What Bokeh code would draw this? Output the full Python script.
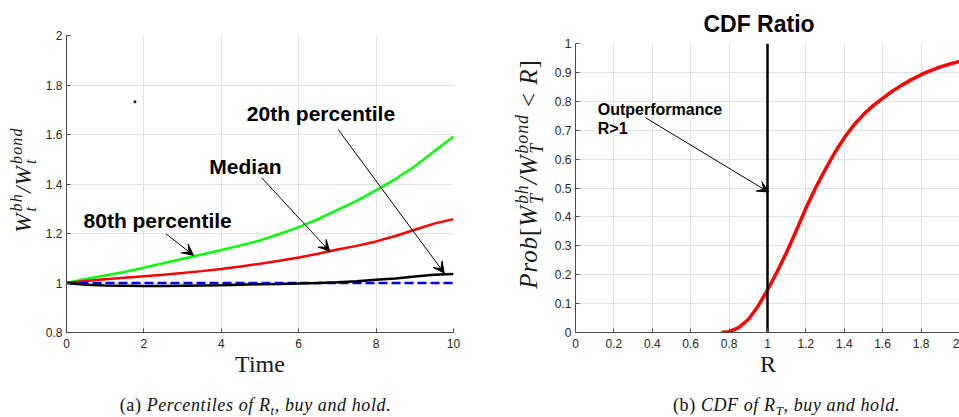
from bokeh.plotting import figure
from bokeh.models import (Range1d, CustomJSTickFormatter, Arrow, VeeHead, Div, ColumnDataSource)
from bokeh.layouts import row, column
from bokeh.embed import file_html
from bokeh.resources import INLINE
from bokeh.core.properties import value

# ---------------- panel (a): percentiles of R_t ----------------
time = [0, 0.5, 1, 1.5, 2, 2.5, 3, 3.5, 4, 4.5, 5, 5.5, 6, 6.5, 7, 7.5, 8, 8.5, 9, 9.5, 10]
p80 = [1.0, 1.016, 1.03, 1.045, 1.062, 1.08, 1.098, 1.115, 1.133, 1.152, 1.172,
       1.198, 1.226, 1.258, 1.295, 1.332, 1.375, 1.42, 1.472, 1.532, 1.592]
median = [1.0, 1.008, 1.015, 1.021, 1.027, 1.033, 1.04, 1.048, 1.057, 1.067, 1.078,
          1.09, 1.103, 1.118, 1.135, 1.15, 1.168, 1.19, 1.215, 1.24, 1.258]
p20 = [1.0, 0.993, 0.99, 0.989, 0.988, 0.988, 0.989, 0.99, 0.991, 0.993, 0.995,
       0.996, 0.998, 1.0, 1.003, 1.007, 1.013, 1.018, 1.026, 1.033, 1.036]
bond_time = [0, 10]
bond_level = [1.0, 1.0]
dot_x = [1.77]
dot_y = [1.732]

a_xticks = [0, 2, 4, 6, 8, 10]
a_xtick_labels = ["0", "2", "4", "6", "8", "10"]
a_yticks = [0.8, 1.0, 1.2, 1.4, 1.6, 1.8, 2.0]
a_ytick_labels = ["0.8", "1", "1.2", "1.4", "1.6", "1.8", "2"]

a_notes = ["80th percentile", "Median", "20th percentile"]
a_note_x = [0.44, 3.69, 4.66]
a_note_y = [1.226, 1.442, 1.658]
a_arrow_x0 = [2.57, 5.05, 7.02]
a_arrow_y0 = [1.199, 1.424, 1.620]
a_arrow_x1 = [3.28, 6.80, 9.76]
a_arrow_y1 = [1.112, 1.128, 1.040]

# ---------------- panel (b): CDF of R_T ----------------
ratio_R = [0.76, 0.8, 0.85, 0.9, 0.95, 1.0, 1.05, 1.1, 1.15, 1.2, 1.25, 1.3, 1.35,
           1.4, 1.45, 1.5, 1.55, 1.6, 1.65, 1.7, 1.75, 1.8, 1.85, 1.9, 1.95, 2.0]
cdf = [0.0, 0.003, 0.017, 0.045, 0.09, 0.147, 0.21, 0.278, 0.353, 0.43, 0.5, 0.563,
       0.622, 0.674, 0.718, 0.754, 0.785, 0.81, 0.835, 0.856, 0.875, 0.892, 0.906,
       0.919, 0.929, 0.938]
vline_x = [1.0, 1.0]
vline_y = [0.0, 1.0]

b_xticks = [0, 0.2, 0.4, 0.6, 0.8, 1.0, 1.2, 1.4, 1.6, 1.8, 2.0]
b_xtick_labels = ["0", "0.2", "0.4", "0.6", "0.8", "1", "1.2", "1.4", "1.6", "1.8", "2"]
b_yticks = [0, 0.1, 0.2, 0.3, 0.4, 0.5, 0.6, 0.7, 0.8, 0.9, 1.0]
b_ytick_labels = ["0", "0.1", "0.2", "0.3", "0.4", "0.5", "0.6", "0.7", "0.8", "0.9", "1"]

b_notes = ["Outperformance", "R>1"]
b_note_x = [0.116, 0.116]
b_note_y = [0.755, 0.688]
b_arrow_x0 = [0.365]
b_arrow_y0 = [0.743]
b_arrow_x1 = [1.005]
b_arrow_y1 = [0.486]

AXC = "#4a4a4a"
TXT = "#262626"
GRID = "#e2e2e2"
SANS = "Liberation Sans"
SERIF = "'Liberation Serif', 'Times New Roman', serif"


def fmt(ticks, labels):
    return CustomJSTickFormatter(args=dict(vals=ticks, labs=labels), code="""
        for (let i = 0; i < vals.length; i++) {
            if (Math.abs(vals[i] - tick) < 1e-9) { return labs[i]; }
        }
        return '';
    """)


def style(p, xt, xl, yt, yl):
    p.outline_line_color = None
    p.xaxis.ticker = xt
    p.yaxis.ticker = yt
    p.xaxis.formatter = fmt(xt, xl)
    p.yaxis.formatter = fmt(yt, yl)
    for ax in (p.xaxis[0], p.yaxis[0]):
        ax.axis_line_color = AXC
        ax.axis_line_width = 1
        ax.major_tick_line_color = AXC
        ax.major_tick_in = 4
        ax.major_tick_out = 0
        ax.minor_tick_line_color = None
        ax.major_label_text_font = SANS
        ax.major_label_text_font_size = "12px"
        ax.major_label_text_color = TXT
    p.yaxis.major_label_standoff = 4
    p.xaxis.major_label_standoff = 6
    p.xgrid.grid_line_color = GRID
    p.ygrid.grid_line_color = GRID


def placed(w, h, items):
    """items: (cx, cy, rotate, css, html) -> a div with absolutely centred pieces."""
    parts = []
    for cx, cy, rot, css, html in items:
        tr = "translate(-50%,-50%)" + (" rotate(-90deg)" if rot else "")
        parts.append(f'<div style="position:absolute;left:{cx}px;top:{cy}px;transform:{tr};'
                     f'white-space:nowrap;{css}">{html}</div>')
    return Div(width=w, height=h, margin=(0, 0, 0, 0),
               text=f'<div style="position:relative;width:{w}px;height:{h}px;">'
                    + "".join(parts) + '</div>')


def scripts(sup, sub, size, lh, drop):
    return (f'<span style="display:inline-block;vertical-align:-{drop}px;font-size:{size}px;'
            f'line-height:{lh}px;margin-left:1px;text-align:left;">{sup}<br>{sub}</span>')


TOP_H = 354

# ---------------- figure (a) ----------------
pa = figure(width=445, height=TOP_H, output_backend="svg", toolbar_location=None,
            x_range=Range1d(0, 10), y_range=Range1d(0.8, 2.0),
            min_border_left=28, min_border_right=30, min_border_top=35, min_border_bottom=22)
style(pa, a_xticks, a_xtick_labels, a_yticks, a_ytick_labels)

pa.line(time, p80, line_color="#00ff00", line_width=2.5)
pa.line(time, median, line_color="#ff0000", line_width=2.5)
pa.line(bond_time, bond_level, line_color="#0000ff", line_width=2.5, line_dash="9 4")
pa.line(time, p20, line_color="#000000", line_width=2.5)
pa.scatter(dot_x, dot_y, size=2, color="black")

src_a = ColumnDataSource(dict(x=a_note_x, y=a_note_y, t=a_notes))
pa.text(x="x", y="y", text="t", source=src_a, text_font=value(SANS), text_font_style="bold",
        text_font_size="21px", text_baseline="alphabetic", text_align="left", text_color="black",
        y_offset=-7)
for x0, y0, x1, y1 in zip(a_arrow_x0, a_arrow_y0, a_arrow_x1, a_arrow_y1):
    pa.add_layout(Arrow(x_start=x0, y_start=y0, x_end=x1, y_end=y1, line_width=1,
                        line_color="black",
                        end=VeeHead(size=11, fill_color="black", line_color="black", line_width=1)))

# ---------------- figure (b) ----------------
pb = figure(width=411, height=TOP_H - 35, output_backend="svg", toolbar_location=None,
            x_range=Range1d(0, 2), y_range=Range1d(0, 1),
            min_border_left=27, min_border_right=0, min_border_top=8, min_border_bottom=22)
style(pb, b_xticks, b_xtick_labels, b_yticks, b_ytick_labels)

pb.line(ratio_R, cdf, line_color="#ff0000", line_width=3.5)
pb.line(vline_x, vline_y, line_color="black", line_width=2.5)

src_b = ColumnDataSource(dict(x=b_note_x, y=b_note_y, t=b_notes))
pb.text(x="x", y="y", text="t", source=src_b, text_font=value(SANS), text_font_style="bold",
        text_font_size="16px", text_baseline="alphabetic", text_align="left", text_color="black",
        y_offset=-5)
for x0, y0, x1, y1 in zip(b_arrow_x0, b_arrow_y0, b_arrow_x1, b_arrow_y1):
    pb.add_layout(Arrow(x_start=x0, y_start=y0, x_end=x1, y_end=y1, line_width=1,
                        line_color="black",
                        end=VeeHead(size=11, fill_color="black", line_color="black", line_width=1)))

# ---------------- texts around the plots ----------------
ylab_css_a = (f"font-family:{SERIF};font-style:italic;font-size:23px;line-height:23px;"
              "letter-spacing:1.2px;color:#1a1a1a;")
ylab_a = ("W" + scripts("bh", "t", 16, 14, 5) + "/" + "W" + scripts("bond", "t", 16, 14, 5))
ya = placed(38, TOP_H, [(24, 180, True, ylab_css_a, ylab_a)])

ylab_css_b = (f"font-family:{SERIF};font-style:italic;font-size:25px;line-height:25px;"
              "letter-spacing:0.9px;color:#1a1a1a;")
up = '<span style="font-style:normal;">{}</span>'
ylab_b = ("Prob" + up.format("[") + "W" + scripts("bh", "T", 18, 15, 6) + "/" + "W"
          + scripts("bond", "T", 18, 15, 6) + up.format("&nbsp;&lt;&nbsp;") + "R" + up.format("]"))
yb = placed(65, TOP_H, [(47, 174, True, ylab_css_b, ylab_b)])

title_b = placed(411, 35, [(211, 24, False,
                            f"font-family:{SANS};font-weight:bold;font-size:23px;line-height:23px;color:#000;",
                            "CDF Ratio")])

BOT_H = 417 - TOP_H
xlab_css = f"font-family:{SERIF};font-size:24px;line-height:24px;color:#1a1a1a;"
cap_css = f"font-family:{SERIF};font-size:18px;line-height:18px;letter-spacing:0.6px;color:#111;"
sub_css = "font-size:13px;line-height:0;vertical-align:-4px;"
cap_a = f'(a) <i>Percentiles of R<sub style="{sub_css}">t</sub>, buy and hold.</i>'
cap_b = f'(b) <i>CDF of R<sub style="{sub_css}">T</sub>, buy and hold.</i>'
bot_a = placed(483, BOT_H, [(260, 364 - TOP_H, False, xlab_css, "Time"),
                            (255.5, 404.5 - TOP_H, False, cap_css, cap_a)])
bot_b = placed(476, BOT_H, [(285, 364 - TOP_H, False, xlab_css, "R"),
                            (303.5, 404.5 - TOP_H, False, cap_css, cap_b)])

layout = column(row(ya, pa, yb, column(title_b, pb)), row(bot_a, bot_b))

open("out.html", "w").write(file_html(layout, INLINE))
